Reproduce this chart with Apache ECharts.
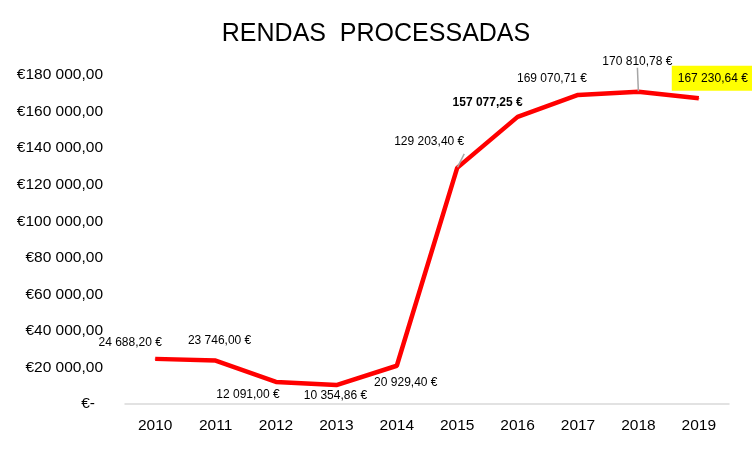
<!DOCTYPE html>
<html>
<head>
<meta charset="utf-8">
<script src="https://cdn.jsdelivr.net/npm/echarts@6/dist/echarts.min.js"></script>
<style>html,body{margin:0;padding:0;background:#fff}#c{width:752px;height:450px}</style>
</head>
<body>
<div id="c"></div>
<script>
const years = ['2010','2011','2012','2013','2014','2015','2016','2017','2018','2019'];
const values = [24688.20, 23746.00, 12091.00, 10354.86, 20929.40, 129203.40, 157077.25, 169070.71, 170810.78, 167230.64];
const labelOffsets = [[-25,-16],[4,-20],[-28,13],[-1,11],[9,17],[-28,-26],[-30,-14],[-26,-16],[-1,-30],[14,-20]];
const leaderIdx = [5, 8];
const boldIdx = [6];
const highlightIdx = [9];

const FONT = "'Liberation Sans Narrow','Arial Narrow','Liberation Sans',Arial,sans-serif";

function fmtNum(v) {
  const parts = v.toFixed(2).split('.');
  const intPart = parts[0].replace(/\B(?=(\d{3})+(?!\d))/g, ' ');
  return intPart + ',' + parts[1];
}

const seriesData = values.map((v, i) => {
  const item = {
    value: v,
    label: {
      show: true,
      position: 'inside',
      offset: labelOffsets[i],
      fontFamily: FONT,
      fontSize: 12,
      color: '#000',
      fontWeight: boldIdx.includes(i) ? 'bold' : 'normal',
      formatter: fmtNum(v) + ' €'
    }
  };
  if (highlightIdx.includes(i)) {
    item.label.backgroundColor = '#FFFF00';
    item.label.padding = [7, 6, 6, 6];
  }
  if (leaderIdx.includes(i)) {
    item.labelLine = { show: true, length2: 0, lineStyle: { color: '#A6A6A6', width: 1.5 } };
  }
  return item;
});

const chart = echarts.init(document.getElementById('c'), null, { renderer: 'canvas' });
chart.setOption({
  animation: false,
  title: {
    text: 'RENDAS  PROCESSADAS',
    left: 'center',
    top: 17,
    textStyle: { fontFamily: FONT, fontSize: 25, fontWeight: 'normal', color: '#000' }
  },
  grid: { left: 125, right: 23, top: 75, bottom: 46, containLabel: false },
  xAxis: {
    type: 'category',
    data: years,
    boundaryGap: true,
    axisLine: { show: true, lineStyle: { color: '#D9D9D9', width: 1.5 } },
    axisTick: { show: false },
    axisLabel: { fontFamily: FONT, fontSize: 15.5, color: '#000', margin: 14 }
  },
  yAxis: {
    type: 'value',
    min: 0,
    max: 180000,
    interval: 20000,
    axisLine: { show: false },
    axisTick: { show: false },
    splitLine: { show: false },
    axisLabel: {
      fontFamily: FONT, fontSize: 15.5, color: '#000', margin: 22,
      formatter: v => v === 0 ? '{z|€-}' : '€' + fmtNum(v),
      rich: { z: { fontFamily: FONT, fontSize: 15.5, color: '#000', padding: [0, 8, 0, 0] } }
    }
  },
  series: [{
    type: 'line',
    data: seriesData,
    symbol: 'circle',
    symbolSize: 1,
    showSymbol: true,
    itemStyle: { color: '#FF0000' },
    lineStyle: { color: '#FF0000', width: 4.5 },
    emphasis: { disabled: true }
  }]
});
</script>
</body>
</html>
